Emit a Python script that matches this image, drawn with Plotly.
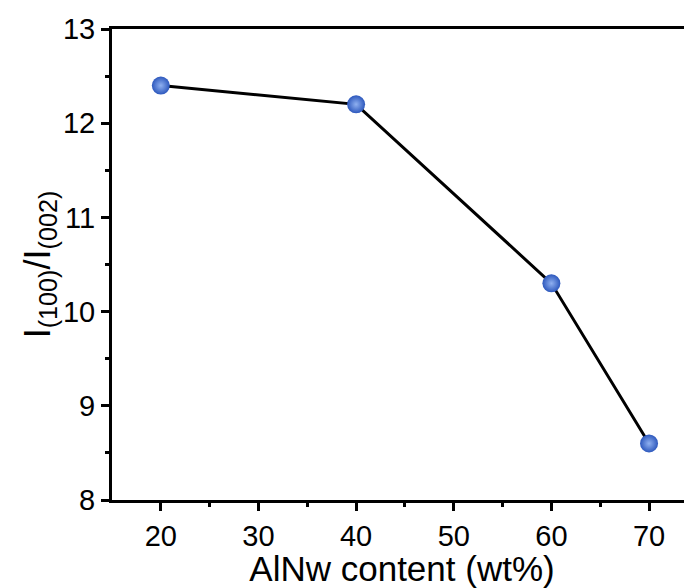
import plotly.graph_objects as go

aln_content = [20, 40, 60, 70]
intensity_ratio = [12.4, 12.2, 10.3, 8.6]

fig = go.Figure()
fig.add_trace(go.Scatter(
    x=aln_content, y=intensity_ratio, mode="lines+markers",
    line=dict(color="black", width=3),
    marker=dict(size=18, color="#2d58bd", line=dict(width=0),
                gradient=dict(type="radial", color="#8fb0f0")),
    showlegend=False,
))

font = "Liberation Sans, Arial, sans-serif"
fig.update_layout(
    width=684, height=580,
    margin=dict(l=104, r=0, t=21, b=88),
    plot_bgcolor="white", paper_bgcolor="white",
    font=dict(family=font, color="black", size=29),
    xaxis=dict(
        range=[15, 74.4], tickvals=[20, 30, 40, 50, 60, 70],
        showline=True, linecolor="black", linewidth=3, mirror=True,
        ticks="outside", ticklen=8, tickwidth=3, tickcolor="black",
        minor=dict(tickvals=[25, 35, 45, 55, 65], ticks="outside", ticklen=4, tickwidth=3, tickcolor="black"),
        showgrid=False, zeroline=False, automargin=False,
        tickfont=dict(size=29),
        title=dict(text="AlNw content (wt%)", font=dict(size=35), standoff=0),
    ),
    yaxis=dict(
        range=[8, 13], tickvals=[8, 9, 10, 11, 12, 13],
        showline=True, linecolor="black", linewidth=3, mirror=False,
        ticks="outside", ticklen=8, tickwidth=3, tickcolor="black",
        minor=dict(tickvals=[8.5, 9.5, 10.5, 11.5, 12.5], ticks="outside", ticklen=4, tickwidth=3, tickcolor="black"),
        showgrid=False, zeroline=False, automargin=False,
        tickfont=dict(size=29),
        title=dict(text="I<sub>(100)</sub>/I<sub>(002)</sub>", font=dict(size=36), standoff=2),
    ),
)

fig.write_html("out.html")
